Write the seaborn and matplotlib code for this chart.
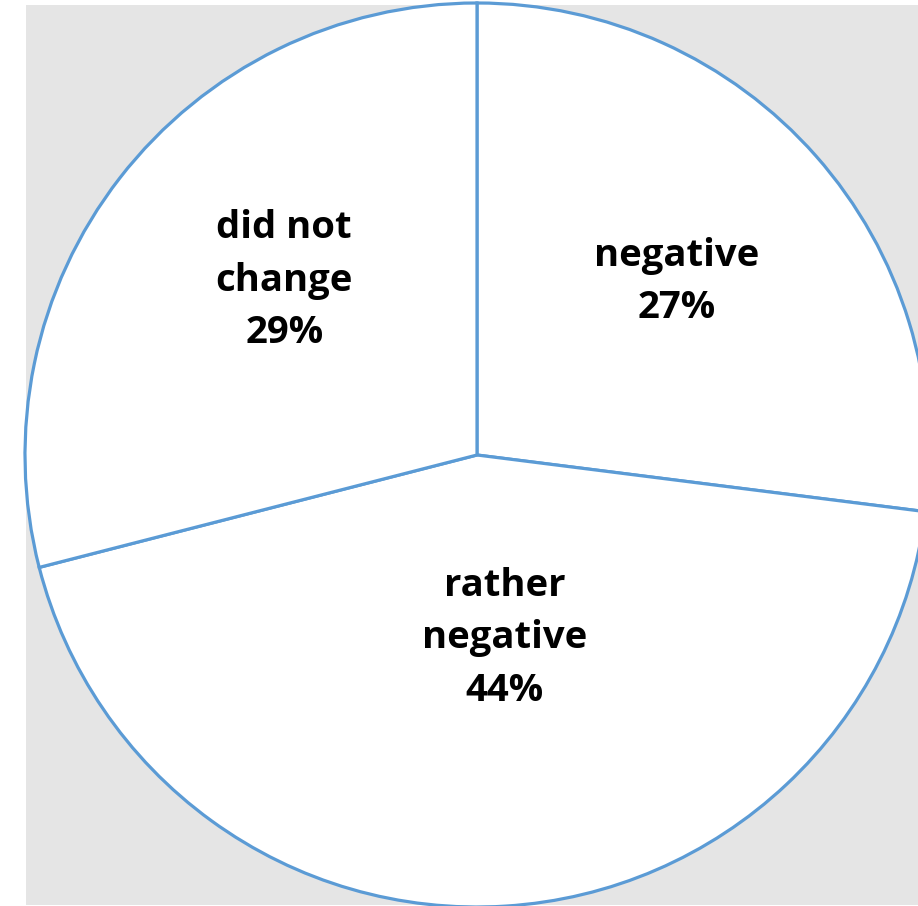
import numpy as np
import matplotlib
matplotlib.use("Agg")
import matplotlib.pyplot as plt
import seaborn as sns
from matplotlib.patches import Rectangle

categories = ["negative", "rather negative", "did not change"]
label_text = ["negative", "rather\nnegative", "did not\nchange"]
shares = [27, 44, 29]

W, H = 918, 906
CENTER = (477, 451)
RADIUS = 452
EDGE = "#5B9BD5"
BG = "#e5e5e5"

# how far from the centre each label sits (fraction of radius) and a small angle nudge
label_dist = {"negative": 0.585, "rather negative": 0.41, "did not change": 0.575}
label_nudge = {"negative": -0.5, "rather negative": 5.0, "did not change": -4.3}


def main():
    sns.set_theme(style="white")
    plt.rcParams["font.family"] = ["Open Sans", "DejaVu Sans"]

    fig = plt.figure(figsize=(W / 100, H / 100), dpi=100, facecolor="white")
    fig.add_artist(Rectangle((26 / W, 1 / H), (W - 26) / W, 900 / H,
                             transform=fig.transFigure, facecolor=BG,
                             edgecolor="none", zorder=0))
    ax = fig.add_axes([0, 0, 1, 1])

    wedges, _ = ax.pie(
        shares,
        startangle=90,
        counterclock=False,
        center=CENTER,
        radius=RADIUS,
        colors=["white"] * len(shares),
        wedgeprops=dict(edgecolor=EDGE, linewidth=2.3),
    )
    ax.set_xlim(0, W)
    ax.set_ylim(0, H)
    ax.set_aspect("equal")
    ax.axis("off")

    for w, cat, txt, val in zip(wedges, categories, label_text, shares):
        mid = np.deg2rad((w.theta1 + w.theta2) / 2 + label_nudge[cat])
        d = label_dist[cat] * RADIUS
        x = CENTER[0] + d * np.cos(mid)
        y = CENTER[1] + d * np.sin(mid)
        ax.text(x, y, f"{txt}\n{val}%", ha="center", va="center",
                multialignment="center", fontsize=27.5, fontweight="bold",
                color="black", linespacing=1.5)

    fig.savefig("out.png", dpi=100, facecolor="white")
    plt.close(fig)


if __name__ == "__main__":
    main()
